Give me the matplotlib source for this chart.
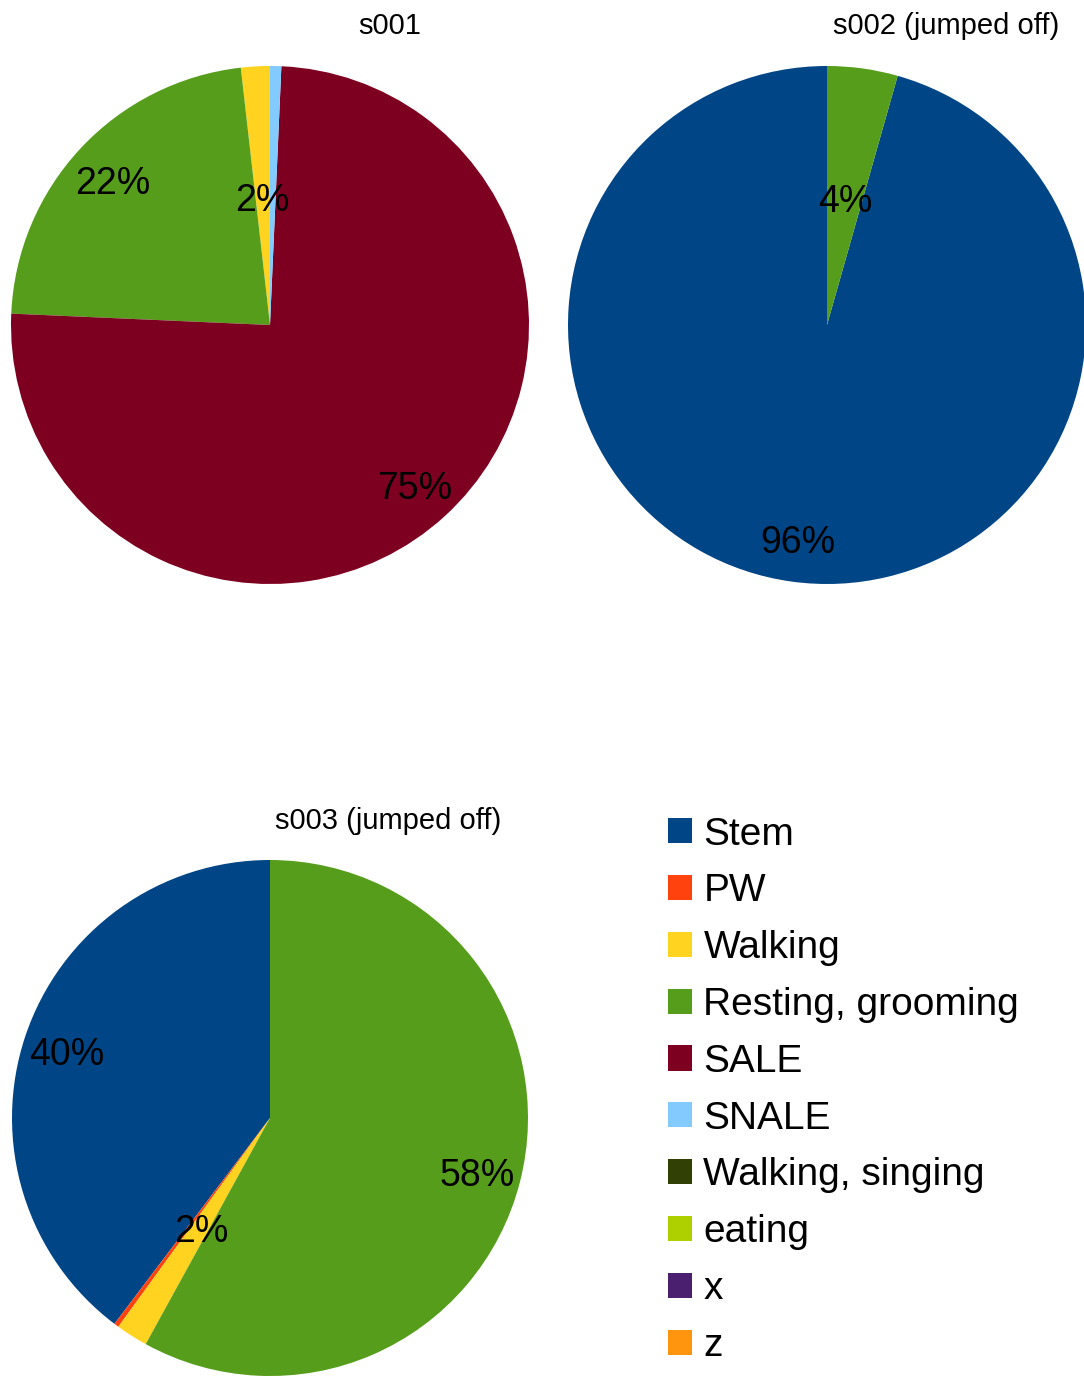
import numpy as np
import matplotlib.pyplot as plt
from matplotlib.patches import Patch

plt.rcParams['font.family'] = ['Liberation Sans', 'DejaVu Sans']

# ---- data ----
categories = ['Stem', 'PW', 'Walking', 'Resting, grooming', 'SALE', 'SNALE',
              'Walking, singing', 'eating', 'x', 'z']
colors = ['#004586', '#ff420e', '#ffd320', '#579d1c', '#7e0021', '#83caff',
          '#314004', '#aecf00', '#4b1f6f', '#ff950e']

titles = ['s001', 's002 (jumped off)', 's003 (jumped off)']
s001 = [0.0, 0.0, 1.8, 22.5, 75.0, 0.7, 0, 0, 0, 0]
s002 = [95.6, 0.0, 0.0, 4.4, 0.0, 0.0, 0, 0, 0, 0]
s003 = [39.7, 0.3, 2.0, 58.0, 0.0, 0.0, 0, 0, 0, 0]
series = [s001, s002, s003]

W, H = 1084, 1376
fig = plt.figure(figsize=(W / 100, H / 100), dpi=100)


def pie_axes(cx, cy, r):
    return fig.add_axes([(cx - r) / W, 1 - (cy + r) / H, 2 * r / W, 2 * r / H])


# pie centre / radius (pixels) and title centre
layout = [((270, 325, 259), (390, 26)),
          ((827, 325, 259), (946, 26)),
          ((270, 1118, 258), (388, 821))]

for vals, title, ((cx, cy, r), (tx, ty)) in zip(series, titles, layout):
    ax = pie_axes(cx, cy, r)
    vals = np.array(vals, dtype=float)
    wedges, _ = ax.pie(vals, colors=colors, startangle=90, counterclock=True,
                       radius=1.0, wedgeprops=dict(linewidth=0))
    total = vals.sum()
    for w, v in zip(wedges, vals):
        pct = 100 * v / total
        if pct < 1.5:
            continue
        mid = np.deg2rad((w.theta1 + w.theta2) / 2)
        rr = 0.5 if pct < 5 else 0.83
        ax.text(rr * np.cos(mid), rr * np.sin(mid) - 0.02, f'{pct:.0f}%',
                ha='center', va='center', fontsize=27, color='black')
    ax.set_xlim(-1, 1)
    ax.set_ylim(-1, 1)
    ax.set_aspect('equal')
    ax.axis('off')
    fig.text(tx / W, 1 - ty / H, title, ha='center', va='center', fontsize=21)

handles = [Patch(facecolor=c, edgecolor='none') for c in colors]
fig.legend(handles, categories, loc='upper left',
           bbox_to_anchor=(652 / W, 1 - 801 / H), frameon=False,
           fontsize=28, handlelength=0.62, handleheight=0.62,
           handletextpad=0.3, labelspacing=0.535, borderaxespad=0)

plt.savefig('out.png', dpi=100)
